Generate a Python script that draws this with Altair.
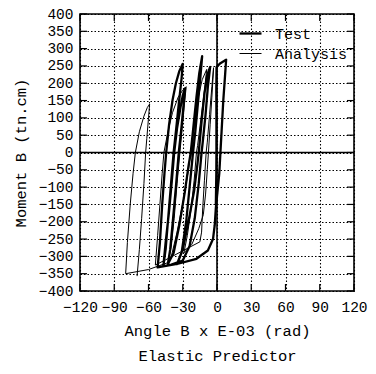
import altair as alt
import pandas as pd

# ---- axis ticks ----
x_ticks = [-120, -90, -60, -30, 0, 30, 60, 90, 120]
y_ticks = [-400, -350, -300, -250, -200, -150, -100, -50, 0, 50, 100, 150, 200, 250, 300, 350, 400]

# ---- Test (thick) path ----
test_x = [-1, -0.6, -0.5, -0.5, -0.6, -0.4, 3, 8, 7, 5.5, 4, 3, 2, 0.5, -1, -2, -3.5, -8, -18, -35, -52,
          -50, -48, -46, -44.5, -42, -39, -36, -33, -30, -31, -33.5, -36, -38, -40.5, -43, -45, -47,
          -45, -42, -39.5, -37.5, -35, -32, -30, -28, -29.5, -31.5, -33.5, -36, -39, -41, -43,
          -38, -33, -28, -25, -23, -20.5, -18, -15.5, -13, -14.5, -16.5, -19, -21, -24, -27, -31, -35,
          -30, -25, -20, -17, -16, -13.5, -11, -8.5, -6, -8, -10, -12.5, -13.5, -16, -19.5, -24, -30, -40, -50]
test_y = [-150, -60, 0, 100, 180, 247, 258, 268, 220, 150, 60, 0, -60, -110, -160, -210, -250, -283, -307, -322, -332,
          -260, -150, -60, 0, 80, 150, 200, 235, 256, 215, 140, 60, 0, -100, -200, -280, -328,
          -260, -170, -80, 0, 70, 130, 165, 185, 130, 60, 0, -100, -210, -280, -322,
          -290, -210, -110, -40, 0, 80, 160, 230, 278, 220, 150, 60, 0, -100, -200, -290, -322,
          -280, -200, -110, -30, 0, 90, 170, 225, 247, 190, 110, 30, 0, -90, -190, -270, -312, -324, -330]

# ---- Analysis (thin) path ----
analysis_x = [-40, -35, -29, -25, -23, -20, -17, -13, -9, -11, -14, -17, -18, -20, -23, -26, -29,
              -22, -16, -12, -10, -8.5, -7.5, -6, -4.5, -3.5, -3, -4.5, -6.5, -8.5, -9.5, -11, -12.5, -13.5, -15, -30, -45, -54,
              -52, -50, -48, -46.5, -43, -39, -34, -30, -27, -28.5, -30.5, -32.5, -35, -37.5, -40, -43, -60, -80,
              -78.5, -76, -73.5, -71.5, -68, -64, -61, -59, -60, -61.5, -62.5, -64, -66, -68, -70]
analysis_y = [-300, -230, -130, -50, 0, 80, 150, 210, 240, 180, 100, 20, 0, -80, -170, -240, -290,
              -265, -220, -180, -120, -50, 0, 80, 160, 215, 245, 190, 110, 30, 0, -80, -160, -230, -258, -284, -310, -325,
              -240, -150, -60, 0, 60, 115, 160, 180, 190, 140, 70, 0, -90, -190, -270, -318, -338, -350,
              -260, -150, -60, 0, 60, 105, 130, 140, 100, 40, 0, -90, -190, -280, -357]

series_names = ["Test", "Analysis"]

FONT = "Liberation Mono"
W = 274
H = 277
TICK_PX = 7

rows = []
for i, (x, y) in enumerate(zip(test_x, test_y)):
    rows.append({"angle": x, "moment": y, "series": "Test", "order": i})
for i, (x, y) in enumerate(zip(analysis_x, analysis_y)):
    rows.append({"angle": x, "moment": y, "series": "Analysis", "order": i})
df = pd.DataFrame(rows)

xmin, xmax = x_ticks[0], x_ticks[-1]
ymin, ymax = y_ticks[0], y_ticks[-1]
xscale = alt.Scale(domain=[xmin, xmax], nice=False, zero=False)
yscale = alt.Scale(domain=[ymin, ymax], nice=False, zero=False)

xaxis = alt.Axis(values=x_ticks, title=["Angle B x E-03 (rad)", "Elastic Predictor"],
                 labelPadding=9, titleLineHeight=25, titlePadding=10, labelFontSize=14.5,
                 labelFlush=False)
yaxis = alt.Axis(values=y_ticks, title="Moment B (tn.cm)",
                 labelPadding=7, titlePadding=10, labelFontSize=14.5,
                 labelFlush=False)

legend = alt.Legend(title=None, orient="none", legendX=158, legendY=7,
                    symbolType="stroke", symbolSize=484, symbolStrokeColor="black",
                    labelFont=FONT, labelFontSize=15, labelColor="black", labelOffset=12,
                    rowPadding=0, padding=0)

lines = alt.Chart(df).mark_line(strokeJoin="round", clip=True).encode(
    x=alt.X("angle:Q", scale=xscale, axis=xaxis),
    y=alt.Y("moment:Q", scale=yscale, axis=yaxis),
    color=alt.Color("series:N", scale=alt.Scale(domain=series_names, range=["black", "black"]), legend=legend),
    strokeWidth=alt.StrokeWidth("series:N", scale=alt.Scale(domain=series_names, range=[2.3, 1.0]), legend=legend),
    detail="series:N",
    order="order:Q",
)

zero_v = alt.Chart(pd.DataFrame({"x0": [0]})).mark_rule(color="black", strokeWidth=1.6).encode(
    x=alt.X("x0:Q", scale=xscale, axis=xaxis))
zero_h = alt.Chart(pd.DataFrame({"y0": [0]})).mark_rule(color="black", strokeWidth=1.6).encode(
    y=alt.Y("y0:Q", scale=yscale, axis=yaxis))

# inward tick marks on all four sides (length converted to data units)
dy = TICK_PX * (ymax - ymin) / H
dx = TICK_PX * (xmax - xmin) / W
vt = pd.DataFrame([{"tx": t, "ya": e, "yb": e + s * dy}
                   for t in x_ticks for e, s in ((ymin, 1), (ymax, -1))])
ht = pd.DataFrame([{"ty": t, "xa": e, "xb": e + s * dx}
                   for t in y_ticks for e, s in ((xmin, 1), (xmax, -1))])
vticks = alt.Chart(vt).mark_rule(color="black", strokeWidth=1.2).encode(
    x=alt.X("tx:Q", scale=xscale, axis=xaxis),
    y=alt.Y("ya:Q", scale=yscale, axis=yaxis), y2="yb:Q")
hticks = alt.Chart(ht).mark_rule(color="black", strokeWidth=1.2).encode(
    y=alt.Y("ty:Q", scale=yscale, axis=yaxis),
    x=alt.X("xa:Q", scale=xscale, axis=xaxis), x2="xb:Q")

chart = alt.layer(lines, zero_v, zero_h, vticks, hticks).properties(
    width=W, height=H,
    background="white",
    autosize=alt.AutoSizeParams(type="none"),
    padding={"left": 72, "top": 6, "right": 14, "bottom": 75},
).configure_view(
    stroke="black", strokeWidth=1.6
).configure_axis(
    grid=True, gridDash=[1.5, 2], gridColor="black", gridOpacity=1, gridWidth=1.1,
    ticks=False, domain=False, labelOverlap=False, labelBound=False,
    labelFont=FONT, labelColor="black",
    titleFont=FONT, titleFontSize=15.5, titleFontWeight="normal", titleColor="black",
)

chart.save("out.html", embed_options={"renderer": "svg", "actions": False})
